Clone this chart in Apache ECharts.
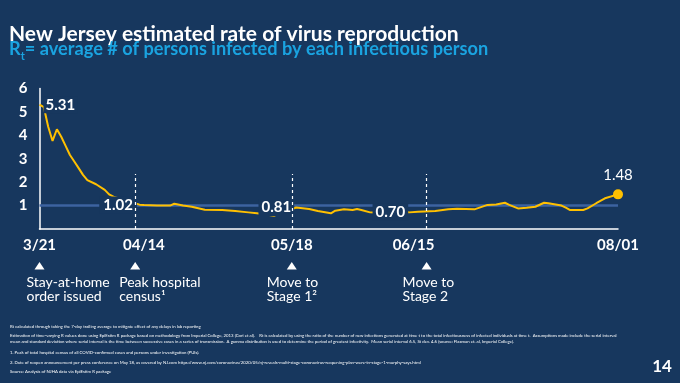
<!DOCTYPE html>
<html><head><meta charset="utf-8">
<script src="https://cdn.jsdelivr.net/npm/echarts@6/dist/echarts.min.js"></script>
<style>html,body{margin:0;padding:0;background:#17375e;overflow:hidden}#c{width:680px;height:383px}</style>
</head><body><div id="c"></div>
<script>
// ---------- DATA ----------
const dates = ['2020-03-21','2020-03-22','2020-03-23','2020-03-24','2020-03-25','2020-03-26','2020-03-27','2020-03-28','2020-03-29','2020-03-30','2020-03-31','2020-04-01','2020-04-03','2020-04-05','2020-04-06','2020-04-07','2020-04-13','2020-04-14','2020-04-17','2020-04-20','2020-04-21','2020-04-23','2020-04-25','2020-04-28','2020-05-02','2020-05-05','2020-05-08','2020-05-10','2020-05-14','2020-05-19','2020-05-22','2020-05-24','2020-05-27','2020-05-28','2020-05-30','2020-06-01','2020-06-02','2020-06-03','2020-06-05','2020-06-06','2020-06-14','2020-06-16','2020-06-20','2020-06-23','2020-06-25','2020-06-29','2020-07-02','2020-07-04','2020-07-06','2020-07-07','2020-07-09','2020-07-11','2020-07-13','2020-07-15','2020-07-16','2020-07-19','2020-07-20','2020-07-21','2020-07-24','2020-07-25','2020-07-27','2020-07-29','2020-08-01'];
const rtValues = [5.31,5.2,4.37,3.76,4.26,3.94,3.55,3.16,2.88,2.6,2.31,2.09,1.91,1.67,1.48,1.38,1.04,1.02,1.0,1.0,1.08,1.0,0.95,0.82,0.81,0.77,0.71,0.67,0.57,0.92,0.85,0.77,0.67,0.78,0.84,0.81,0.85,0.81,0.71,0.70,0.71,0.74,0.77,0.84,0.86,0.84,1.03,1.05,1.12,1.03,0.88,0.91,0.95,1.12,1.10,1.0,0.91,0.81,0.81,0.88,1.10,1.31,1.48];
const tickDates = ['2020-03-21','2020-04-14','2020-05-18','2020-06-15','2020-08-01'];
const tickLabels = ['3/21','04/14','05/18','06/15','08/01'];
const yTicks = [1,2,3,4,5,6];
const refValue = 1;
const calloutDates = ['2020-03-21','2020-04-14','2020-05-19','2020-06-14','2020-08-01'];
const calloutTexts = ['5.31','1.02','0.81','0.70','1.48'];
const eventDates = ['2020-03-21','2020-04-12','2020-05-18','2020-06-18'];
const eventTexts = [['Stay-at-home','order issued'],['Peak hospital','census¹'],['Move to','Stage 1²'],['Move to','Stage 2']];
const dashedTop = 2.35;
const titleText = 'New Jersey estimated rate of virus reproduction';
const subtitleText = '= average # of persons infected by each infectious person';
const footnotes = [
 'Rt calculated through taking the 7-day trailing average to mitigate effect of any delays in lab reporting',
 'Estimation of time-varying R values done using EpiEstim R package based on methodology from Imperial College, 2013 (Cori et al).    Rt is calculated by using the ratio of the number of new infections generated at time t to the total infectiousness of infected individuals at time t.  Assumptions made include the serial interval',
 'mean and standard deviation where serial interval is the time between successive cases in a series of transmission.  A gamma distribution is used to determine the period of greatest infectivity.  Mean serial interval 6.5, St dev. 4.6 (source: Flaxman et. al, Imperial College).',
 '1. Peak of total hospital census of all COVID-confirmed cases and persons under investigation (PUIs).',
 '2. Date of reopen announcement per press conference on May 18, as covered by NJ.com https://www.nj.com/coronavirus/2020/05/nj-reveals-multi-stage-coronavirus-reopening-plan-were-in-stage-1-murphy-says.html',
 'Source: Analysis of NJHA data via EpiEstim R package'
];
const pageNumber = '14';

// ---------- HELPERS / STYLE ----------
const ts = d => { const p = d.split('-').map(Number); return Date.UTC(p[0], p[1] - 1, p[2]); };
const BG = '#17375e';
const FONT = 'Lato, "Open Sans", sans-serif';
const calloutStyles = [
  {position:'right', distance:4, offset:[0,13], fontWeight:'bold'},
  {position:'left', distance:7, fontWeight:'bold', padding:[1,4]},
  {position:'left', distance:2, fontWeight:'bold', padding:[1,3]},
  {position:'left', distance:1, fontWeight:'bold', padding:[1,3]},
  {position:'top', distance:6, fontWeight:'normal', backgroundColor:'transparent'}
];
const eventTextOffsets = [-13, -16, -25, -24];
const footnoteY = [327, 335.5, 342, 353, 363, 372];

const seriesData = dates.map((d, i) => {
  const item = {value: [ts(d), rtValues[i]]};
  const k = calloutDates.indexOf(d);
  if (k >= 0) {
    item.label = Object.assign({
      show: true, formatter: calloutTexts[k], color: '#ffffff', fontSize: 15,
      fontFamily: FONT, backgroundColor: BG, padding: [1, 2]
    }, calloutStyles[k]);
  }
  if (i === dates.length - 1) { item.symbolSize = 10; }
  return item;
});
const tickTs = tickDates.map(ts);

const chart = echarts.init(document.getElementById('c'), null, {renderer: 'canvas', width: 680, height: 383});
const option = {
  backgroundColor: BG,
  animation: false,
  grid: {left: 39.5, right: 62, top: 88.5, bottom: 154, containLabel: false, outerBoundsMode: 'none'},
  xAxis: {
    type: 'value', min: tickTs[0], max: tickTs[tickTs.length - 1],
    axisLine: {lineStyle: {color: '#ffffff', width: 1.5}},
    axisTick: {show: false},
    splitLine: {show: false},
    axisLabel: {
      customValues: tickTs,
      formatter: v => { const i = tickTs.indexOf(v); return i >= 0 ? tickLabels[i] : ''; },
      color: '#ffffff', fontSize: 15, fontWeight: 'bold', fontFamily: FONT, margin: 9,
      showMinLabel: true, showMaxLabel: true, hideOverlap: false
    }
  },
  yAxis: {
    type: 'value', min: 0, max: yTicks[yTicks.length - 1], interval: 1,
    axisLine: {show: true, lineStyle: {color: '#ffffff', width: 1.5}},
    axisTick: {show: false},
    splitLine: {show: false},
    axisLabel: {
      formatter: v => yTicks.includes(v) ? String(v) : '',
      color: '#ffffff', fontSize: 15, fontWeight: 'bold', fontFamily: FONT, margin: 12
    }
  },
  series: [
    {
      type: 'line', z: 1, data: [], silent: true,
      markLine: {
        z: 1, silent: true, symbol: ['none', 'none'], label: {show: false},
        lineStyle: {color: '#3d63a0', width: 2.5, type: 'solid'},
        data: [{yAxis: refValue}]
      }
    },
    {
      type: 'line', z: 3, data: seriesData, silent: true,
      symbol: 'circle', symbolSize: 0, showSymbol: true, showAllSymbol: true,
      itemStyle: {color: '#ffc000'},
      lineStyle: {color: '#ffc000', width: 2},
      labelLayout: {hideOverlap: false}
    },
    {
      type: 'line', z: 5, data: [], silent: true,
      markLine: {
        z: 6, silent: true, symbol: ['none', 'none'], label: {show: false},
        lineStyle: {color: '#ffffff', width: 1.2, type: [3, 3]},
        data: eventDates.slice(1).map(d => [{coord: [ts(d), 0]}, {coord: [ts(d), dashedTop]}])
      }
    }
  ]
};
chart.setOption(option);

// ---------- ANNOTATIONS (positions from the chart's own scales) ----------
const y0 = chart.convertToPixel({yAxisIndex: 0}, 0);
const g = [];
g.push({type: 'text', left: 9, top: 23.5, style: {text: titleText, fill: '#ffffff', font: 'bold 21px ' + FONT}});
g.push({type: 'text', left: 9, top: 40.5, style: {
  text: '{r|R}{s|t}{n|' + subtitleText + '}', fill: '#1aa3e0',
  rich: {
    r: {fontFamily: FONT, fontWeight: 'bold', fontSize: 18.2, color: '#1aa3e0', lineHeight: 20, verticalAlign: 'bottom'},
    s: {fontFamily: FONT, fontWeight: 'bold', fontSize: 11, color: '#1aa3e0', lineHeight: 11, verticalAlign: 'bottom', padding: [0, 0, -3, 0]},
    n: {fontFamily: FONT, fontWeight: 'bold', fontSize: 18.2, color: '#1aa3e0', lineHeight: 20, verticalAlign: 'bottom'}
  }
}});
eventDates.forEach((d, i) => {
  const x = chart.convertToPixel({xAxisIndex: 0}, ts(d));
  g.push({type: 'polygon', shape: {points: [[x, y0 + 33], [x - 5, y0 + 40.5], [x + 5, y0 + 40.5]]}, style: {fill: '#ffffff'}});
  eventTexts[i].forEach((t, j) => {
    g.push({type: 'text', x: x + eventTextOffsets[i], y: y0 + 53 + j * 14.5, style: {text: t, fill: '#ffffff', font: '14px ' + FONT, verticalAlign: 'middle', align: 'left'}});
  });
});
footnotes.forEach((t, i) => {
  g.push({type: 'text', x: 10, y: footnoteY[i], style: {text: t, fill: '#ffffff', font: '4.3px ' + FONT, verticalAlign: 'middle', align: 'left'}});
});
g.push({type: 'text', x: 662, y: 367, style: {text: pageNumber, fill: '#ffffff', font: 'bold 17px ' + FONT, verticalAlign: 'middle', align: 'center'}});
chart.setOption({graphic: g});
</script>
</body></html>
